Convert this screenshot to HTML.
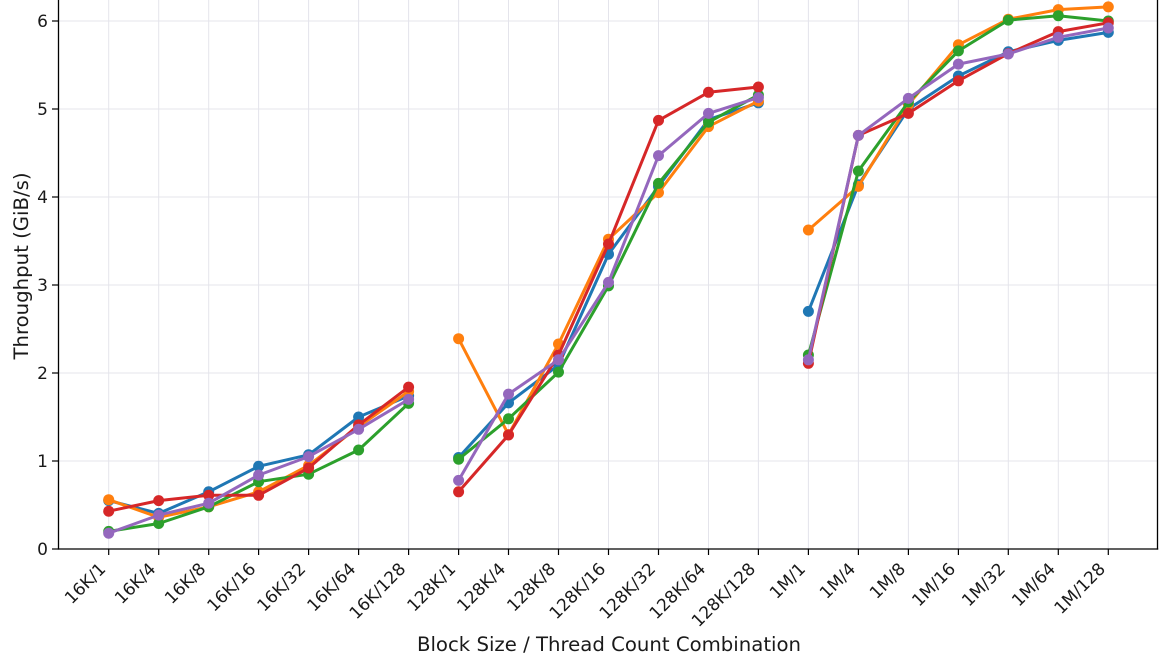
<!DOCTYPE html>
<html>
<head>
<meta charset="utf-8">
<style>
  html, body { margin: 0; padding: 0; background: #ffffff; }
  body { width: 1170px; height: 663px; overflow: hidden; }
  svg { display: block; }
  text { font-family: "DejaVu Sans", "Liberation Sans", sans-serif; fill: #1a1a1a; }
</style>
</head>
<body>
<svg width="1170" height="663" viewBox="0 0 1170 663" xmlns="http://www.w3.org/2000/svg">
  <defs>
    <marker id="mb" markerUnits="userSpaceOnUse" markerWidth="14" markerHeight="14" refX="7" refY="7" overflow="visible"><circle cx="7" cy="7" r="5.5" fill="#1f77b4"/></marker>
    <marker id="mo" markerUnits="userSpaceOnUse" markerWidth="14" markerHeight="14" refX="7" refY="7" overflow="visible"><circle cx="7" cy="7" r="5.5" fill="#ff7f0e"/></marker>
    <marker id="mg" markerUnits="userSpaceOnUse" markerWidth="14" markerHeight="14" refX="7" refY="7" overflow="visible"><circle cx="7" cy="7" r="5.5" fill="#2ca02c"/></marker>
    <marker id="mr" markerUnits="userSpaceOnUse" markerWidth="14" markerHeight="14" refX="7" refY="7" overflow="visible"><circle cx="7" cy="7" r="5.5" fill="#d62728"/></marker>
    <marker id="mp" markerUnits="userSpaceOnUse" markerWidth="14" markerHeight="14" refX="7" refY="7" overflow="visible"><circle cx="7" cy="7" r="5.5" fill="#9467bd"/></marker>
  </defs>

  <!-- grid -->
  <g stroke="#e4e4eb" stroke-width="1">
    <line x1="108.7" y1="0" x2="108.7" y2="549"/>
    <line x1="158.7" y1="0" x2="158.7" y2="549"/>
    <line x1="208.7" y1="0" x2="208.7" y2="549"/>
    <line x1="258.6" y1="0" x2="258.6" y2="549"/>
    <line x1="308.6" y1="0" x2="308.6" y2="549"/>
    <line x1="358.6" y1="0" x2="358.6" y2="549"/>
    <line x1="408.6" y1="0" x2="408.6" y2="549"/>
    <line x1="458.6" y1="0" x2="458.6" y2="549"/>
    <line x1="508.5" y1="0" x2="508.5" y2="549"/>
    <line x1="558.5" y1="0" x2="558.5" y2="549"/>
    <line x1="608.5" y1="0" x2="608.5" y2="549"/>
    <line x1="658.5" y1="0" x2="658.5" y2="549"/>
    <line x1="708.5" y1="0" x2="708.5" y2="549"/>
    <line x1="758.4" y1="0" x2="758.4" y2="549"/>
    <line x1="808.4" y1="0" x2="808.4" y2="549"/>
    <line x1="858.4" y1="0" x2="858.4" y2="549"/>
    <line x1="908.4" y1="0" x2="908.4" y2="549"/>
    <line x1="958.4" y1="0" x2="958.4" y2="549"/>
    <line x1="1008.3" y1="0" x2="1008.3" y2="549"/>
    <line x1="1058.3" y1="0" x2="1058.3" y2="549"/>
    <line x1="1108.3" y1="0" x2="1108.3" y2="549"/>
    <line x1="58" y1="461" x2="1158" y2="461"/>
    <line x1="58" y1="373" x2="1158" y2="373"/>
    <line x1="58" y1="285" x2="1158" y2="285"/>
    <line x1="58" y1="197" x2="1158" y2="197"/>
    <line x1="58" y1="109" x2="1158" y2="109"/>
    <line x1="58" y1="21" x2="1158" y2="21"/>
  </g>

  <!-- series -->
  <g fill="none" stroke-width="3" stroke-linejoin="round" stroke-linecap="round">
    <!-- blue -->
    <g stroke="#1f77b4" marker-start="url(#mb)" marker-mid="url(#mb)" marker-end="url(#mb)">
      <polyline points="108.7,500.6 158.7,513.4 208.7,491.8 258.6,466.3 308.6,454.8 358.6,417 408.6,395.9"/>
      <polyline points="458.6,457.5 508.5,402.9 558.5,365.1 608.5,254.2 658.5,186.4 708.5,119.6 758.4,102.8"/>
      <polyline points="808.4,311.4 858.4,184.7 908.4,109 958.4,76 1008.3,51.8 1058.3,40.4 1108.3,32.4"/>
    </g>
    <!-- orange -->
    <g stroke="#ff7f0e" marker-start="url(#mo)" marker-mid="url(#mo)" marker-end="url(#mo)">
      <polyline points="108.7,499.7 158.7,517.3 208.7,506.8 258.6,491.8 308.6,465.4 358.6,426.7 408.6,391.5"/>
      <polyline points="458.6,338.7 508.5,434.6 558.5,344 608.5,239.2 658.5,192.6 708.5,126.6 758.4,101.1"/>
      <polyline points="808.4,230 858.4,186.4 908.4,104.6 958.4,44.8 1008.3,19.2 1058.3,9.6 1108.3,6.9"/>
    </g>
    <!-- green -->
    <g stroke="#2ca02c" marker-start="url(#mg)" marker-mid="url(#mg)" marker-end="url(#mg)">
      <polyline points="108.7,531.4 158.7,523.5 208.7,506.8 258.6,481.7 308.6,474.2 358.6,450 408.6,403.4"/>
      <polyline points="458.6,459.2 508.5,418.8 558.5,372.1 608.5,285.9 658.5,183.4 708.5,122.2 758.4,95"/>
      <polyline points="808.4,355 858.4,171 908.4,102 958.4,50.9 1008.3,20.1 1058.3,15.7 1108.3,21"/>
    </g>
    <!-- red -->
    <g stroke="#d62728" marker-start="url(#mr)" marker-mid="url(#mr)" marker-end="url(#mr)">
      <polyline points="108.7,511.2 158.7,500.6 208.7,495.3 258.6,495.3 308.6,468 358.6,424.9 408.6,387.1"/>
      <polyline points="458.6,491.8 508.5,435 558.5,355 608.5,244 658.5,120.4 708.5,92.3 758.4,87"/>
      <polyline points="808.4,363.3 858.4,135.4 908.4,113.4 958.4,80.8 1008.3,53.6 1058.3,31.6 1108.3,22.8"/>
    </g>
    <!-- purple -->
    <g stroke="#9467bd" marker-start="url(#mp)" marker-mid="url(#mp)" marker-end="url(#mp)">
      <polyline points="108.7,533.2 158.7,515.1 208.7,503.2 258.6,475.1 308.6,456.6 358.6,429.3 408.6,399.4"/>
      <polyline points="458.6,480.4 508.5,394.1 558.5,359.8 608.5,282.4 658.5,155.6 708.5,113.4 758.4,97.6"/>
      <polyline points="808.4,359.8 858.4,135.4 908.4,98.4 958.4,64.1 1008.3,54 1058.3,37.3 1108.3,28"/>
    </g>
  </g>

  <!-- spines -->
  <g stroke="#000" stroke-width="1.3" fill="none">
    <line x1="58.5" y1="0" x2="58.5" y2="549.6"/>
    <line x1="1157.5" y1="0" x2="1157.5" y2="549.6"/>
    <line x1="57.8" y1="549" x2="1158.2" y2="549"/>
  </g>

  <!-- y ticks -->
  <g stroke="#000" stroke-width="1.2">
    <line x1="52" y1="549" x2="58" y2="549"/>
    <line x1="52" y1="461" x2="58" y2="461"/>
    <line x1="52" y1="373" x2="58" y2="373"/>
    <line x1="52" y1="285" x2="58" y2="285"/>
    <line x1="52" y1="197" x2="58" y2="197"/>
    <line x1="52" y1="109" x2="58" y2="109"/>
    <line x1="52" y1="21" x2="58" y2="21"/>
  </g>
  <g font-size="17" text-anchor="end">
    <text x="48" y="555.2">0</text>
    <text x="48" y="467.2">1</text>
    <text x="48" y="379.2">2</text>
    <text x="48" y="291.2">3</text>
    <text x="48" y="203.2">4</text>
    <text x="48" y="115.2">5</text>
    <text x="48" y="27.2">6</text>
  </g>

  <!-- x ticks -->
  <g stroke="#000" stroke-width="1.2">
    <line x1="108.7" y1="549" x2="108.7" y2="555"/>
    <line x1="158.7" y1="549" x2="158.7" y2="555"/>
    <line x1="208.7" y1="549" x2="208.7" y2="555"/>
    <line x1="258.6" y1="549" x2="258.6" y2="555"/>
    <line x1="308.6" y1="549" x2="308.6" y2="555"/>
    <line x1="358.6" y1="549" x2="358.6" y2="555"/>
    <line x1="408.6" y1="549" x2="408.6" y2="555"/>
    <line x1="458.6" y1="549" x2="458.6" y2="555"/>
    <line x1="508.5" y1="549" x2="508.5" y2="555"/>
    <line x1="558.5" y1="549" x2="558.5" y2="555"/>
    <line x1="608.5" y1="549" x2="608.5" y2="555"/>
    <line x1="658.5" y1="549" x2="658.5" y2="555"/>
    <line x1="708.5" y1="549" x2="708.5" y2="555"/>
    <line x1="758.4" y1="549" x2="758.4" y2="555"/>
    <line x1="808.4" y1="549" x2="808.4" y2="555"/>
    <line x1="858.4" y1="549" x2="858.4" y2="555"/>
    <line x1="908.4" y1="549" x2="908.4" y2="555"/>
    <line x1="958.4" y1="549" x2="958.4" y2="555"/>
    <line x1="1008.3" y1="549" x2="1008.3" y2="555"/>
    <line x1="1058.3" y1="549" x2="1058.3" y2="555"/>
    <line x1="1108.3" y1="549" x2="1108.3" y2="555"/>
  </g>
  <g font-size="17" text-anchor="end">
    <text x="106.7" y="570" transform="rotate(-45 106.7 570)">16K/1</text>
    <text x="156.7" y="570" transform="rotate(-45 156.7 570)">16K/4</text>
    <text x="206.7" y="570" transform="rotate(-45 206.7 570)">16K/8</text>
    <text x="256.6" y="570" transform="rotate(-45 256.6 570)">16K/16</text>
    <text x="306.6" y="570" transform="rotate(-45 306.6 570)">16K/32</text>
    <text x="356.6" y="570" transform="rotate(-45 356.6 570)">16K/64</text>
    <text x="406.6" y="570" transform="rotate(-45 406.6 570)">16K/128</text>
    <text x="456.6" y="570" transform="rotate(-45 456.6 570)">128K/1</text>
    <text x="506.5" y="570" transform="rotate(-45 506.5 570)">128K/4</text>
    <text x="556.5" y="570" transform="rotate(-45 556.5 570)">128K/8</text>
    <text x="606.5" y="570" transform="rotate(-45 606.5 570)">128K/16</text>
    <text x="656.5" y="570" transform="rotate(-45 656.5 570)">128K/32</text>
    <text x="706.5" y="570" transform="rotate(-45 706.5 570)">128K/64</text>
    <text x="756.4" y="570" transform="rotate(-45 756.4 570)">128K/128</text>
    <text x="806.4" y="570" transform="rotate(-45 806.4 570)">1M/1</text>
    <text x="856.4" y="570" transform="rotate(-45 856.4 570)">1M/4</text>
    <text x="906.4" y="570" transform="rotate(-45 906.4 570)">1M/8</text>
    <text x="956.4" y="570" transform="rotate(-45 956.4 570)">1M/16</text>
    <text x="1006.3" y="570" transform="rotate(-45 1006.3 570)">1M/32</text>
    <text x="1056.3" y="570" transform="rotate(-45 1056.3 570)">1M/64</text>
    <text x="1106.3" y="570" transform="rotate(-45 1106.3 570)">1M/128</text>
  </g>

  <!-- axis labels -->
  <text x="609" y="651" font-size="19.7" text-anchor="middle">Block Size / Thread Count Combination</text>
  <text x="28" y="266" font-size="19.7" text-anchor="middle" transform="rotate(-90 28 266)">Throughput (GiB/s)</text>
</svg>
</body>
</html>
